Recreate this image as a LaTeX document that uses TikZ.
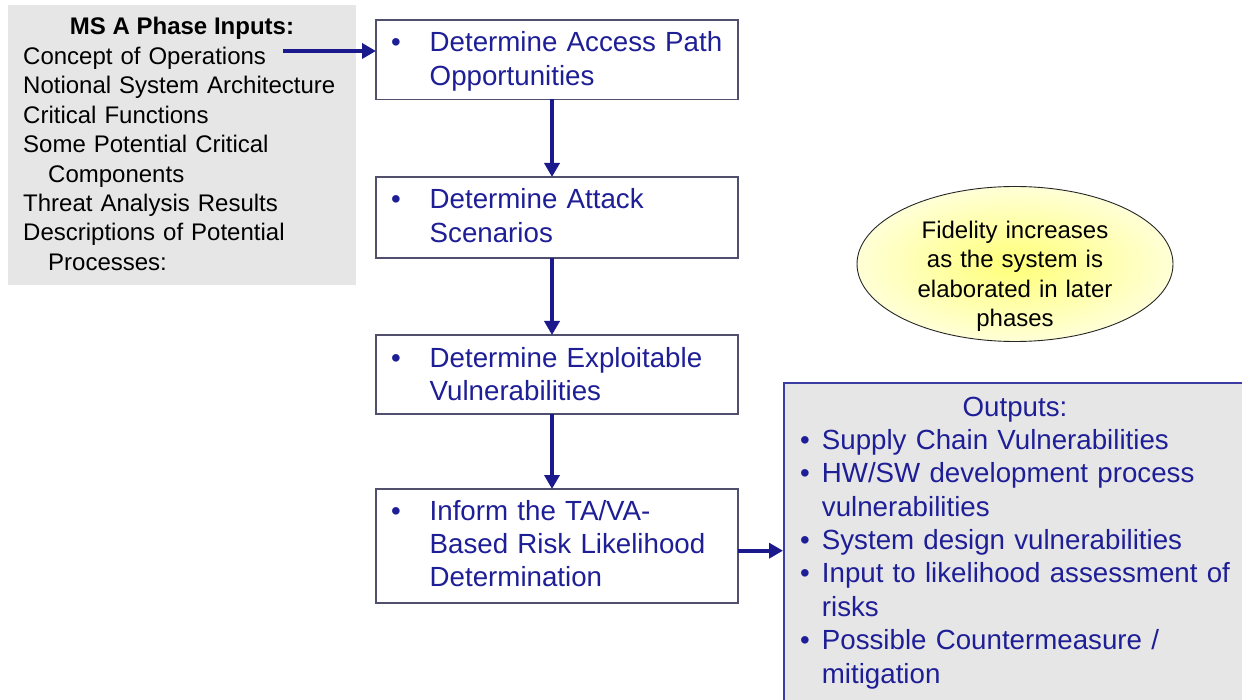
\documentclass[tikz,border=0pt]{standalone}
\usepackage{fontspec}
\setmainfont{Liberation Sans}
\usetikzlibrary{arrows.meta,shapes.geometric}

\definecolor{navy}{RGB}{26,26,140}
\definecolor{bluetext}{RGB}{30,30,150}
\definecolor{boxline}{RGB}{80,80,110}
\definecolor{panel}{RGB}{230,230,230}
\definecolor{outline}{RGB}{60,60,165}
\definecolor{noteinner}{RGB}{255,255,120}
\definecolor{noteouter}{RGB}{255,255,215}

\begin{document}
\begin{tikzpicture}[x=1pt,y=-1pt,
  stepbox/.style={draw=boxline,line width=1.6pt,fill=white,minimum width=362pt,inner sep=0pt,outer sep=0pt},
  steptext/.style={anchor=base west,inner sep=0pt,text width=420pt,align=left,text=bluetext,
    font=\fontsize{27.7}{33.4}\selectfont},
  smalltext/.style={inner sep=0pt,font=\fontsize{24}{29.4}\selectfont},
  flow/.style={draw=navy,line width=4pt,-{Triangle[length=14pt,width=15pt]}},
]
% canvas
\fill[white] (0,0) rectangle (1242,700);
\useasboundingbox (0,0) rectangle (1242,700);

% inputs panel
\node[fill=panel,minimum width=348pt,minimum height=280pt,inner sep=0pt] (inputs) at (182,145) {};
\node[smalltext,anchor=base,font=\fontsize{24}{29.4}\selectfont\bfseries] (inputstitle) at (182,35) {MS A Phase Inputs:};
\node[smalltext,anchor=base west,text width=340pt,align=left] (inputlist) at (23,64.5) {%
Concept of Operations\\
Notional System Architecture\\
Critical Functions\\
Some Potential Critical\\
\hspace*{25pt}Components\\
Threat Analysis Results\\
Descriptions of Potential\\
\hspace*{25pt}Processes:};
\coordinate (instart) at (283,51);

% process steps
\node[stepbox,minimum height=79.5pt] (s1) at (557,59.75) {};
\node[stepbox,minimum height=81pt] (s2) at (557,217.5) {};
\node[stepbox,minimum height=79pt] (s3) at (557,374.5) {};
\node[stepbox,minimum height=114pt] (s4) at (557,546) {};

\node[steptext] (t1) at ([xshift=15pt,yshift=-32pt]s1.north west)
  {\makebox[38.5pt][l]{\textbullet}Determine Access Path\\\hspace*{38.5pt}Opportunities};
\node[steptext] (t2) at ([xshift=15pt,yshift=-32pt]s2.north west)
  {\makebox[38.5pt][l]{\textbullet}Determine Attack\\\hspace*{38.5pt}Scenarios};
\node[steptext] (t3) at ([xshift=15pt,yshift=-32pt]s3.north west)
  {\makebox[38.5pt][l]{\textbullet}Determine Exploitable\\\hspace*{38.5pt}Vulnerabilities};
\node[steptext] (t4) at ([xshift=15pt,yshift=-31pt]s4.north west)
  {\makebox[38.5pt][l]{\textbullet}Inform the TA/VA-\\\hspace*{38.5pt}Based Risk Likelihood\\\hspace*{38.5pt}Determination};

% fidelity note
\node[ellipse,draw=black!85,line width=0.9pt,minimum width=316pt,minimum height=155pt,inner sep=0pt,
  shading=radial,inner color=noteinner,outer color=noteouter] (note) at (1015,264) {};
\node[smalltext,anchor=base,text width=260pt,align=center] (notetext) at (1015,238.3)
  {Fidelity increases\\as the system is\\elaborated in later\\phases};

% outputs panel
\node[fill=panel,draw=outline,line width=2pt,minimum width=500pt,minimum height=340pt,inner sep=0pt] (outputs) at (1034,553.3) {};
\node[inner sep=0pt,anchor=base,text=bluetext,font=\fontsize{27.7}{33.4}\selectfont] (outtitle) at (1015,416.7) {Outputs:};
\node[steptext,text width=440pt] (outlist) at (800,449.3) {%
\makebox[21.7pt][l]{\textbullet}Supply Chain Vulnerabilities\\
\makebox[21.7pt][l]{\textbullet}HW/SW development process\\
\hspace*{21.7pt}vulnerabilities\\
\makebox[21.7pt][l]{\textbullet}System design vulnerabilities\\
\makebox[21.7pt][l]{\textbullet}Input to likelihood assessment of\\
\hspace*{21.7pt}risks\\
\makebox[21.7pt][l]{\textbullet}Possible Countermeasure /\\
\hspace*{21.7pt}mitigation};

% connectors
\coordinate (axis) at (552,0);
\draw[flow] (instart) -- (instart -| s1.west);
\draw[flow] (s1.south -| axis) -- (s2.north -| axis);
\draw[flow] (s2.south -| axis) -- (s3.north -| axis);
\draw[flow] (s3.south -| axis) -- (s4.north -| axis);
\draw[flow] ([yshift=-4.7pt]s4.east) -- ([yshift=-4.7pt]s4.east -| outputs.west);
\end{tikzpicture}
\end{document}
